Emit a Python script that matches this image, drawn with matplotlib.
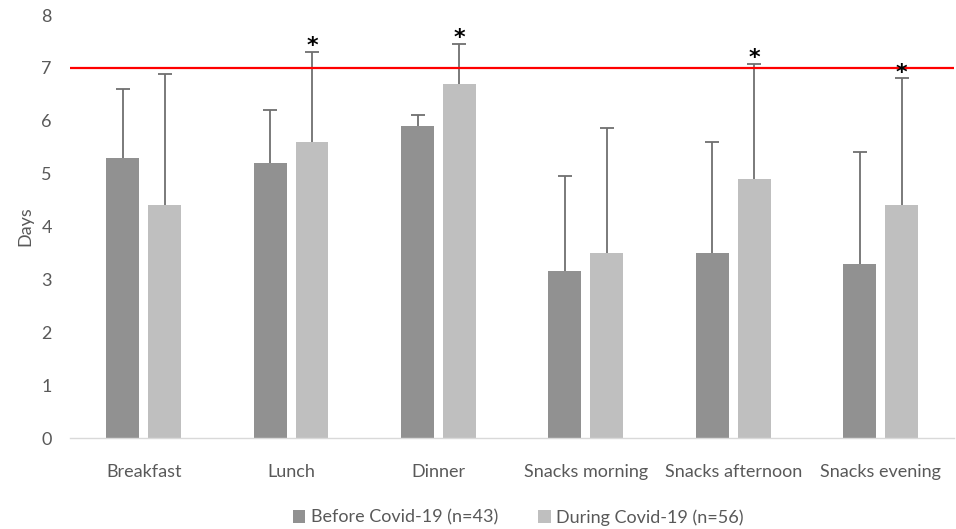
import matplotlib
matplotlib.use("Agg")
import matplotlib.pyplot as plt
import numpy as np

plt.rcParams['font.family'] = ['Lato', 'DejaVu Sans']

categories = ["Breakfast", "Lunch", "Dinner", "Snacks morning", "Snacks afternoon", "Snacks evening"]
before = [5.3, 5.2, 5.9, 3.15, 3.5, 3.3]
before_err_top = [6.6, 6.2, 6.1, 4.95, 5.6, 5.4]
during = [4.4, 5.6, 6.7, 3.5, 4.9, 4.4]
during_err_top = [6.88, 7.3, 7.45, 5.87, 7.08, 6.8]
significant = [False, True, True, False, True, True]
reference_line = 7
legend_labels = ["Before Covid-19 (n=43)", "During Covid-19 (n=56)"]

fig = plt.figure(figsize=(9.56, 5.29), dpi=100)
ax = fig.add_axes([0.0732, 0.172, 0.925, 0.7996])

x = np.arange(len(categories))
w = 0.223
off = 0.142
c_before = "#919191"
c_during = "#bfbfbf"
err_c = "#6f6f6f"

b1 = ax.bar(x - off, before, w, color=c_before, label=legend_labels[0], zorder=2)
b2 = ax.bar(x + off, during, w, color=c_during, label=legend_labels[1], zorder=2)

be = np.array(before_err_top) - np.array(before)
de = np.array(during_err_top) - np.array(during)
for xs, vals, e in [(x - off, before, be), (x + off, during, de)]:
    eb = ax.errorbar(xs, vals, yerr=[np.zeros_like(e), e], fmt='none', ecolor=err_c,
                     elinewidth=1.3, capsize=5, capthick=1.3, zorder=1.5)
    caps = eb[1]
    if len(caps) >= 2:
        caps[0].set_visible(False)

for i, s in enumerate(significant):
    if s:
        ax.annotate("*", (x[i] + off, during_err_top[i]), xytext=(0, -3),
                    textcoords="offset points", ha="center", va="bottom",
                    fontsize=16, fontweight="bold", color="black", family="DejaVu Sans", zorder=5)

ax.axhline(reference_line, color="#ff0000", lw=1.6, zorder=4)

ax.set_xlim(-0.5, len(categories) - 0.5)
ax.set_ylim(0, 8)
ax.set_yticks(range(0, 9))
ax.set_xticks(x)
ax.set_xticklabels(categories)
ax.tick_params(axis='both', length=0, labelsize=13, labelcolor="#595959")
ax.tick_params(axis='x', pad=19)
ax.tick_params(axis='y', pad=13)
for sp in ["top", "right", "left"]:
    ax.spines[sp].set_visible(False)
ax.spines["bottom"].set_color("#d9d9d9")
ax.spines["bottom"].set_linewidth(1.0)
ax.set_ylabel("Days", fontsize=13, color="#595959", labelpad=6)

fig.legend(handles=[b1, b2], labels=legend_labels, loc="center", bbox_to_anchor=(0.542, 0.022),
           ncol=2, frameon=False, fontsize=13, handlelength=0.7, handleheight=0.7,
           handletextpad=0.3, columnspacing=2.2, labelcolor="#595959")

fig.savefig("out.png", dpi=100)
